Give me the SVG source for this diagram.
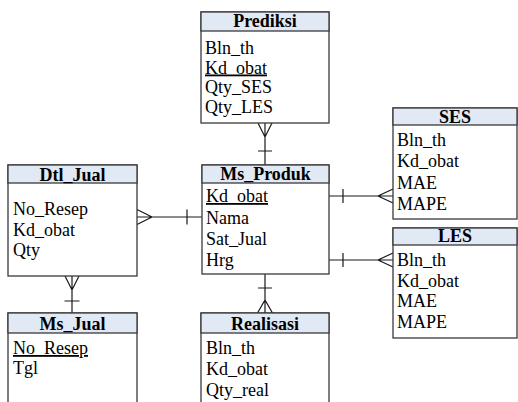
<svg xmlns="http://www.w3.org/2000/svg" width="518" height="402" viewBox="0 0 518 402">
<style>
.box{fill:#ffffff;stroke:#3a3a3a;stroke-width:1.3}
.hdr{fill:#e1e9f5;stroke:#3a3a3a;stroke-width:1.3}
.t{font-family:"Liberation Serif","Times New Roman",serif;font-size:18px;fill:#000}
.h{font-family:"Liberation Serif","Times New Roman",serif;font-size:18px;font-weight:bold;fill:#000;text-anchor:middle}
.u{text-decoration:underline}
.c{stroke:#1a1a1a;stroke-width:1.2;fill:none}
</style>
<rect width="518" height="402" fill="#ffffff"/>
<g id="connectors">
  <!-- Prediksi - Ms_Produk -->
  <path class="c" d="M265 123 V165 M258 123 L265 137 L272 123 M258 151 H272"/>
  <!-- Dtl_Jual - Ms_Produk -->
  <path class="c" d="M137 217 H202 M137 209.5 L152 217 L137 224.5 M187 209.5 V224.5"/>
  <!-- Ms_Produk - SES -->
  <path class="c" d="M329 196 H393 M343 189 V203 M393 189 L378 196 L393 203"/>
  <!-- Ms_Produk - LES -->
  <path class="c" d="M329 260 H393 M343 253 V267 M393 253 L378 260 L393 267"/>
  <!-- Ms_Produk - Realisasi -->
  <path class="c" d="M265 274 V313 M258 288 H272 M257.5 313 L265 300 L272.5 313"/>
  <!-- Dtl_Jual - Ms_Jual -->
  <path class="c" d="M72 276 V313 M65 276 L72 290 L79 276 M64.5 301 H79.5"/>
</g>
<g id="Prediksi">
  <rect class="box" x="201" y="12" width="128" height="111"/>
  <rect class="hdr" x="201" y="12" width="128" height="19"/>
  <text class="h" x="265" y="27">Prediksi</text>
  <text class="t" x="205" y="54">Bln_th</text>
  <text class="t u" x="205" y="73.5">Kd_obat</text>
  <text class="t" x="205" y="93">Qty_SES</text>
  <text class="t" x="205" y="112.5">Qty_LES</text>
</g>
<g id="Ms_Produk">
  <rect class="box" x="202" y="165" width="127" height="109"/>
  <rect class="hdr" x="202" y="165" width="127" height="18"/>
  <text class="h" x="265.5" y="180">Ms_Produk</text>
  <text class="t u" x="206" y="202">Kd_obat</text>
  <text class="t" x="206" y="223.5">Nama</text>
  <text class="t" x="206" y="245">Sat_Jual</text>
  <text class="t" x="206" y="266">Hrg</text>
</g>
<g id="Dtl_Jual">
  <rect class="box" x="8" y="165" width="129" height="111"/>
  <rect class="hdr" x="8" y="165" width="129" height="18"/>
  <text class="h" x="72.5" y="180.5">Dtl_Jual</text>
  <text class="t" x="13" y="215">No_Resep</text>
  <text class="t" x="13" y="235.5">Kd_obat</text>
  <text class="t" x="13" y="255.5">Qty</text>
</g>
<g id="SES">
  <rect class="box" x="393" y="108" width="124" height="111"/>
  <rect class="hdr" x="393" y="108" width="124" height="17"/>
  <text class="h" x="455" y="122.5">SES</text>
  <text class="t" x="397" y="145.5">Bln_th</text>
  <text class="t" x="397" y="167">Kd_obat</text>
  <text class="t" x="397" y="188.5">MAE</text>
  <text class="t" x="397" y="210">MAPE</text>
</g>
<g id="LES">
  <rect class="box" x="393" y="228" width="124" height="110"/>
  <rect class="hdr" x="393" y="228" width="124" height="17"/>
  <text class="h" x="455" y="242">LES</text>
  <text class="t" x="397" y="265.5">Bln_th</text>
  <text class="t" x="397" y="286.5">Kd_obat</text>
  <text class="t" x="397" y="307">MAE</text>
  <text class="t" x="397" y="328">MAPE</text>
</g>
<g id="Ms_Jual">
  <rect class="box" x="8" y="313" width="129" height="100"/>
  <rect class="hdr" x="8" y="313" width="129" height="20"/>
  <text class="h" x="72.5" y="329.5">Ms_Jual</text>
  <text class="t u" x="13" y="354">No_Resep</text>
  <text class="t" x="13" y="374">Tgl</text>
</g>
<g id="Realisasi">
  <rect class="box" x="201" y="313" width="128" height="100"/>
  <rect class="hdr" x="201" y="313" width="128" height="20"/>
  <text class="h" x="265" y="329.5">Realisasi</text>
  <text class="t" x="206" y="354">Bln_th</text>
  <text class="t" x="206" y="375">Kd_obat</text>
  <text class="t" x="206" y="396">Qty_real</text>
</g>
</svg>
